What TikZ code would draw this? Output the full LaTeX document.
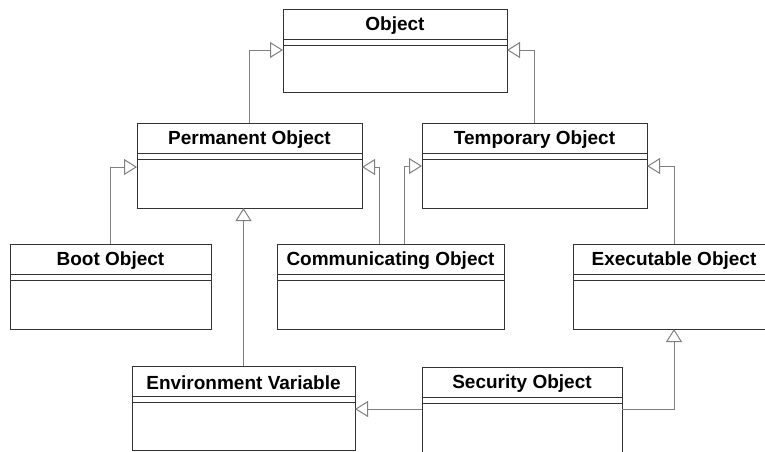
\documentclass[tikz,border=0pt]{standalone}
\usepackage{fontspec}
\setmainfont{Liberation Sans}
\usetikzlibrary{arrows.meta}
\definecolor{boxc}{HTML}{333333}
\definecolor{linec}{HTML}{808080}
\newcommand\umlclass[6]{%
  \node[cls, minimum width=#4pt, minimum height=#5pt] (#1) at (#2,#3) {};
  \node[clsname] (#1-name) at ([yshift=-17pt]#1.north) {#6};
  \draw[divider] ([yshift=-30pt]#1.north west) -- ([yshift=-30pt]#1.north east);
  \draw[divider] ([yshift=-36.5pt]#1.north west) -- ([yshift=-36.5pt]#1.north east);
}
\begin{document}
\begin{tikzpicture}[x=1pt,y=-1pt,
  cls/.style={draw=boxc, line width=1pt, fill=white, anchor=north west, inner sep=0pt, outer sep=0pt},
  clsname/.style={font=\fontsize{19}{21}\selectfont\bfseries, anchor=center, inner sep=0pt},
  divider/.style={draw=boxc, line width=1pt},
  inh/.style={draw=linec, line width=1pt, -{Triangle[open, length=13pt, width=16pt, fill=white]}}]
\useasboundingbox[fill=white] (0,0) rectangle (765,451);

\umlclass{obj}{283}{9}{224}{83}{Object}
\umlclass{perm}{137}{123}{225}{85}{Permanent Object}
\umlclass{temp}{422}{123}{225}{85}{Temporary Object}
\umlclass{boot}{10}{244}{201}{85}{Boot Object}
\umlclass{comm}{277}{244}{227}{85}{Communicating Object}
\umlclass{exec}{573}{244}{202}{85}{Executable Object}
\umlclass{env}{132}{366}{223}{84}{Environment Variable}
\umlclass{sec}{422}{367}{200}{86}{Security Object}

\coordinate (secL) at ([yshift=-42pt]sec.north west);
\coordinate (secR) at ([yshift=-42pt]sec.north east);

\draw[inh] (perm.north) |- ([yshift=-41pt]obj.north west);
\draw[inh] (temp.north) |- ([yshift=-41pt]obj.north east);
\draw[inh] (boot.north) |- ([yshift=-44pt]perm.north west);
\draw[inh] ([xshift=-11.5pt]comm.north) |- ([yshift=-44pt]perm.north east);
\draw[inh] ([xshift=13.5pt]comm.north) |- ([yshift=-43pt]temp.north west);
\draw[inh] (exec.north) |- ([yshift=-43pt]temp.north east);
\draw[inh] (env.north) -- (env.north |- perm.south);
\draw[inh] (secL) -- (env.east |- secL);
\draw[inh] (secR) -| (exec.south);
\end{tikzpicture}
\end{document}
